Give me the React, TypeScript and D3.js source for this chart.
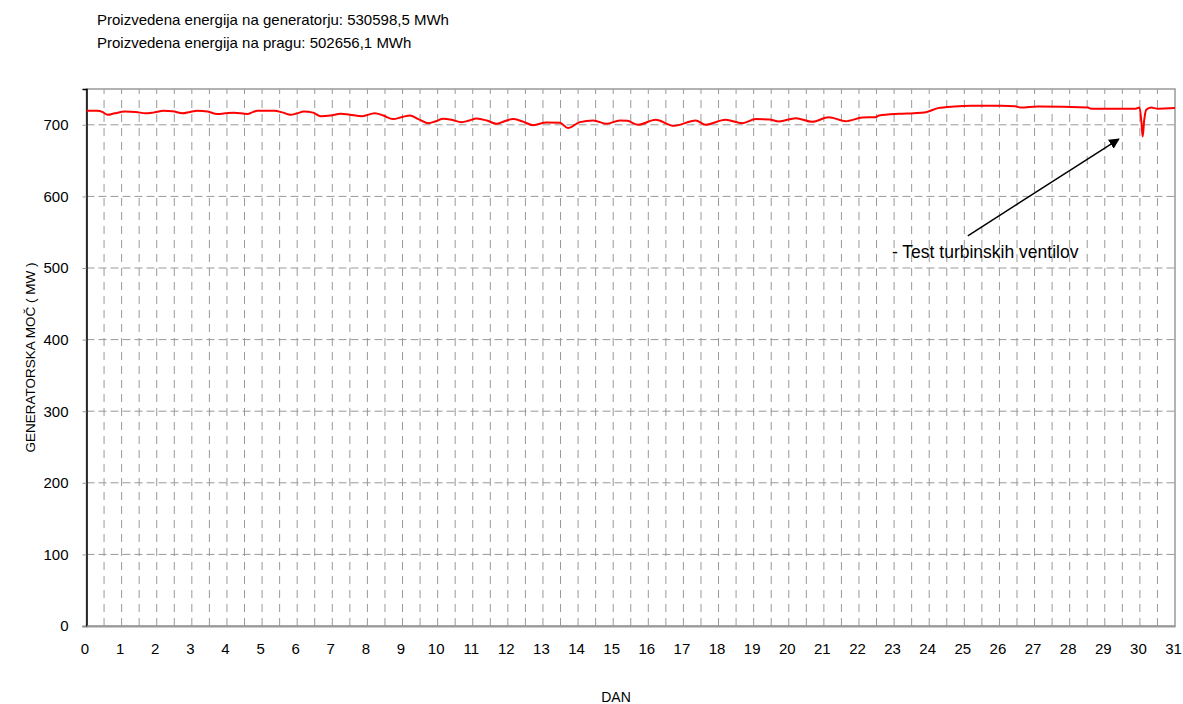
import React, { useEffect, useRef } from "react";
import * as d3 from "d3";

// header lines
const headerLines = [
  "Proizvedena energija na generatorju: 530598,5 MWh",
  "Proizvedena energija na pragu: 502656,1 MWh",
];

// [day, MW]
const powerDays = [
  0, 0.3, 0.45, 0.6, 0.8, 1.1, 1.4, 1.68, 1.9, 2.2, 2.45, 2.73, 2.95, 3.15, 3.45, 3.72, 3.95,
  4.2, 4.58, 4.75, 4.86, 5.34, 5.6, 5.81, 6.0, 6.19, 6.45, 6.67, 6.95, 7.24, 7.5, 7.85, 8.21,
  8.45, 8.73, 9.0, 9.21, 9.45, 9.73, 9.95, 10.16, 10.4, 10.68, 10.9, 11.11, 11.4, 11.68, 11.9,
  12.15, 12.4, 12.72, 13.1, 13.48, 13.71, 14.05, 14.43, 14.81, 15.19, 15.4, 15.71, 16.21,
  16.73, 17.35, 17.63, 18.2, 18.68, 19.06, 19.45, 19.72, 20.2, 20.67, 21.14, 21.62, 22.1,
  22.47, 22.57, 23.14, 23.56, 23.87, 24.25, 24.72, 25.19, 26.05, 26.45, 26.6, 27.09, 28.52,
  28.61, 29.85, 29.99, 30.05, 30.08, 30.12, 30.18, 30.32, 30.51, 31,
];
const powerMW = [
  719.5, 719.5, 718, 714, 716, 718.5, 718, 716, 717, 719.5, 719, 716, 718, 719.5, 718.5, 715,
  716, 717, 715, 718, 719.5, 719.5, 717, 714, 716, 718.5, 717, 712, 713, 715.5, 714, 712,
  716.3, 713, 708, 711, 713, 708, 702.3, 705, 708.4, 707, 703.7, 706, 708.8, 706, 701.4, 705,
  708, 705, 699.5, 703.3, 703, 695.4, 703.7, 706, 701.4, 706, 705.5, 700, 707, 698.6, 706,
  700, 707, 702.3, 708, 707.5, 704.7, 709.3, 704.2, 710.7, 705, 710.2, 710.7, 713, 715.4,
  716.3, 717.2, 723.3, 725.6, 726.5, 726.5, 725.8, 724.2, 725.6, 724.2, 722.4, 722.4, 724,
  700, 683.7, 705, 721, 724.2, 722.4, 723.3,
];

const dayTicks = d3.range(0, 32);
const gridDays = d3.range(1, 62).map((i) => i / 2);
const mwTicks = [0, 100, 200, 300, 400, 500, 600, 700];

const annotation = { text: "- Test turbinskih ventilov", fromDay: 25.1, fromMW: 545, toDay: 29.4, toMW: 680 };

export default function App() {
  const ref = useRef<SVGSVGElement>(null);

  useEffect(() => {
    const W = 1183,
      H = 704;
    const m = { left: 86.5, right: 8, top: 89, bottom: 78 };
    const svg = d3.select(ref.current);
    svg.selectAll("*").remove();
    const font = "'Liberation Sans', Arial, sans-serif";

    const x = d3.scaleLinear().domain([0, 31]).range([m.left, W - m.right]);
    const y = d3.scaleLinear().domain([0, 750]).range([H - m.bottom, m.top]);

    svg
      .append("rect")
      .attr("width", W)
      .attr("height", H)
      .attr("fill", "#fff");

    // header
    svg
      .selectAll(".hdr")
      .data(headerLines)
      .join("text")
      .attr("x", 97)
      .attr("y", (d, i) => 25 + i * 23)
      .attr("font-family", font)
      .attr("font-size", 15)
      .attr("fill", "#000")
      .text((d) => d);

    // vertical grid
    svg
      .selectAll(".vg")
      .data(gridDays)
      .join("line")
      .attr("x1", (d) => x(d))
      .attr("x2", (d) => x(d))
      .attr("y1", y(0))
      .attr("y2", y(750))
      .attr("stroke", "#999")
      .attr("stroke-width", 1)
      .attr("stroke-dasharray", "8,6");

    // horizontal grid
    svg
      .selectAll(".hg")
      .data(mwTicks.filter((d) => d > 0))
      .join("line")
      .attr("x1", x(0))
      .attr("x2", x(31))
      .attr("y1", (d) => y(d))
      .attr("y2", (d) => y(d))
      .attr("stroke", "#999")
      .attr("stroke-width", 1)
      .attr("stroke-dasharray", "8,4");

    // frame
    svg
      .append("rect")
      .attr("x", x(0))
      .attr("y", y(750))
      .attr("width", x(31) - x(0))
      .attr("height", y(0) - y(750))
      .attr("fill", "none")
      .attr("stroke", "#999")
      .attr("stroke-width", 1.5);

    // y axis
    const yAxis = svg
      .append("g")
      .attr("transform", `translate(${x(0)},0)`)
      .call(d3.axisLeft(y).tickValues(mwTicks).tickSize(4).tickPadding(14));
    yAxis.select(".domain").attr("stroke", "#000").attr("stroke-width", 1.5);
    yAxis.selectAll(".tick line").attr("stroke", "#999");
    yAxis
      .selectAll(".tick text")
      .attr("font-family", font)
      .attr("font-size", 15)
      .attr("fill", "#000");

    // x axis
    const xAxis = svg
      .append("g")
      .attr("transform", `translate(0,${y(0)})`)
      .call(d3.axisBottom(x).tickValues(dayTicks).tickSize(0).tickPadding(17).tickFormat(d3.format("d")));
    xAxis.select(".domain").attr("stroke", "#999").attr("stroke-width", 2);
    xAxis
      .selectAll(".tick text")
      .attr("font-family", font)
      .attr("font-size", 15)
      .attr("fill", "#000")
      .attr("dx", -2);

    // series
    const pts: [number, number][] = powerDays.map((d, i) => [d, powerMW[i]]);
    const line = d3
      .line<[number, number]>()
      .x((d) => x(d[0]))
      .y((d) => y(d[1]))
      .curve(d3.curveMonotoneX);
    svg
      .append("path")
      .datum(pts)
      .attr("d", line)
      .attr("fill", "none")
      .attr("stroke", "#ff0000")
      .attr("stroke-width", 2);

    // axis titles
    svg
      .append("text")
      .attr("transform", `translate(35,${(y(0) + y(750)) / 2}) rotate(-90)`)
      .attr("text-anchor", "middle")
      .attr("font-family", font)
      .attr("font-size", 13.5)
      .text("GENERATORSKA MOČ ( MW )");
    svg
      .append("text")
      .attr("x", 616)
      .attr("y", 702)
      .attr("text-anchor", "middle")
      .attr("font-family", font)
      .attr("font-size", 14)
      .text("DAN");

    // annotation
    svg
      .append("defs")
      .append("marker")
      .attr("id", "arr")
      .attr("viewBox", "0 0 10 10")
      .attr("refX", 9)
      .attr("refY", 5)
      .attr("markerWidth", 7)
      .attr("markerHeight", 7)
      .attr("orient", "auto")
      .append("path")
      .attr("d", "M0,0L10,5L0,10z")
      .attr("fill", "#000");
    svg
      .append("line")
      .attr("x1", x(annotation.fromDay))
      .attr("y1", y(annotation.fromMW))
      .attr("x2", x(annotation.toDay))
      .attr("y2", y(annotation.toMW))
      .attr("stroke", "#000")
      .attr("stroke-width", 1.5)
      .attr("marker-end", "url(#arr)");
    svg
      .append("text")
      .attr("x", 892)
      .attr("y", 258)
      .attr("font-family", font)
      .attr("font-size", 17.5)
      .text(annotation.text);
  }, []);

  return (
    <svg
      ref={ref}
      width={1183}
      height={704}
      style={{ position: "absolute", left: 0, top: 0, display: "block" }}
    />
  );
}
